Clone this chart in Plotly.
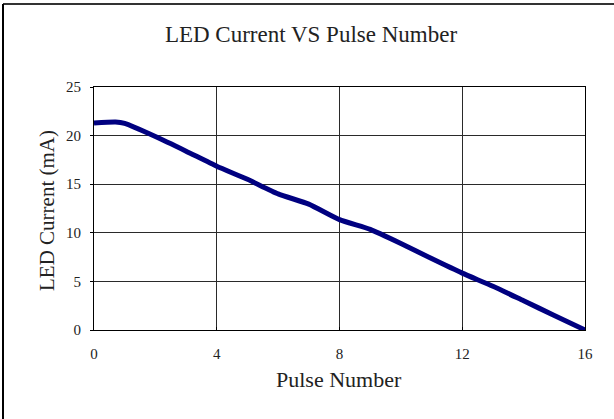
import plotly.graph_objects as go

pulse_number = [0, 0.7, 1, 2, 3, 4, 5, 6, 7, 8, 9, 10, 11, 12, 13, 14, 15, 16]
led_current_ma = [21.3, 21.4, 21.25, 19.9, 18.4, 16.85, 15.5, 14.0, 12.95, 11.35, 10.35, 8.9, 7.35, 5.85, 4.5, 3.0, 1.5, 0.0]
x_ticks = [0, 4, 8, 12, 16]
y_ticks = [0, 5, 10, 15, 20, 25]

FONT = "Liberation Serif"
W, H = 614, 419
L, R, T, B = 94, 29, 87, 89
pw, ph = W - L - R, H - T - B

def px(x):
    return (x - L) / pw

def py(y):
    return (H - B - y) / ph

fig = go.Figure()
fig.add_trace(go.Scatter(
    x=pulse_number, y=led_current_ma, mode="lines",
    line=dict(color="#000080", width=5, shape="spline", smoothing=0.5),
    hoverinfo="skip", showlegend=False,
))

fig.update_layout(
    width=W, height=H,
    margin=dict(l=L, r=R, t=T, b=B),
    paper_bgcolor="white", plot_bgcolor="white",
    font=dict(family=FONT, color="#222222", size=15),
    title=dict(text="LED Current VS Pulse Number", x=(164 + 458) / 2 / W, xref="container",
               y=1 - 34 / H, yref="container", xanchor="center", yanchor="middle",
               font=dict(family=FONT, size=23, color="#222222")),
    xaxis=dict(range=[0, 16], tickvals=x_ticks, ticktext=[str(v) for v in x_ticks],
               showgrid=True, gridcolor="#2a2a2a", gridwidth=1,
               showline=True, linecolor="black", linewidth=1, mirror=True,
               ticks="inside", ticklen=3, tickcolor="black", zeroline=False,
               ticklabelstandoff=10, fixedrange=True,
               tickfont=dict(family=FONT, size=15, color="#222222")),
    yaxis=dict(range=[0, 25], tickvals=y_ticks, ticktext=[str(v) for v in y_ticks],
               showgrid=True, gridcolor="#2a2a2a", gridwidth=1,
               showline=True, linecolor="black", linewidth=1, mirror=True,
               ticks="outside", ticklen=3, tickcolor="black", zeroline=False,
               ticklabelstandoff=6, fixedrange=True,
               tickfont=dict(family=FONT, size=15, color="#222222")),
    annotations=[
        dict(text="Pulse Number", xref="paper", yref="paper", x=px(339), y=py(379),
             showarrow=False, xanchor="center", yanchor="middle",
             font=dict(family=FONT, size=22, color="#222222")),
        dict(text="LED Current (mA)", xref="paper", yref="paper", x=px(47), y=py(211),
             showarrow=False, textangle=-90, xanchor="center", yanchor="middle",
             font=dict(family=FONT, size=21, color="#222222")),
    ],
    shapes=[
        dict(type="line", xref="paper", yref="paper", x0=px(3), x1=px(W + 2), y0=py(4), y1=py(4),
             line=dict(color="#333333", width=2)),
        dict(type="line", xref="paper", yref="paper", x0=px(3), x1=px(3), y0=py(4), y1=py(H + 2),
             line=dict(color="black", width=2)),
    ],
)

fig.write_html("out.html", config={"displayModeBar": False, "staticPlot": True},
               post_script="document.body.style.margin='0px';document.body.style.overflow='hidden';")
